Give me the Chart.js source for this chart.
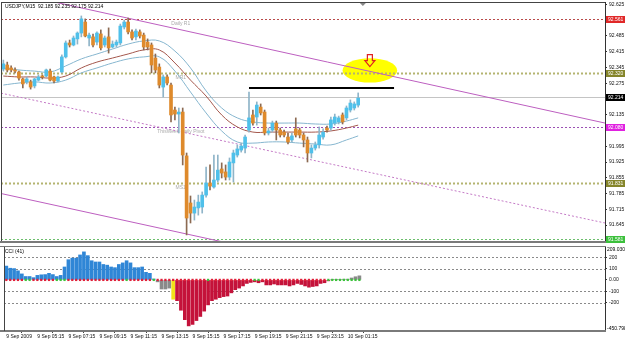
<!DOCTYPE html>
<html>
<head>
<meta charset="utf-8">
<script src="https://cdn.jsdelivr.net/npm/chart.js@4.4.1/dist/chart.umd.min.js"></script>
<style>
  html, body { margin: 0; padding: 0; background: #fff; }
  #wrap { position: relative; width: 625px; height: 341px; overflow: hidden; background: #fff; }
  #price { position: absolute; left: 0; top: 0; }
  #cci { position: absolute; left: 0; top: 243px; }
</style>
</head>
<body>
<div id="wrap">
  <canvas id="price" width="625" height="243"></canvas>
  <canvas id="cci" width="625" height="98"></canvas>
</div>
<script>
// USDJPY M15 bars, index 0 = first bar on screen
const openVals = [
  92.338,92.356,92.343,92.334,92.325,92.294,92.281,92.281,92.263,92.289,
  92.307,92.307,92.329,92.303,92.285,92.325,92.392,92.454,92.445,92.472,
  92.498,92.547,92.476,92.481,92.458,92.494,92.445,92.481,92.436,92.445,
  92.454,92.525,92.547,92.503,92.481,92.503,92.489,92.458,92.445,92.387,
  92.347,92.258,92.303,92.267,92.156,92.138,92.147,91.952,91.743,91.698,
  91.721,91.725,91.778,91.832,91.814,91.845,91.894,91.881,91.858,91.921,
  91.956,91.978,91.987,92.067,92.134,92.125,92.169,92.147,92.054,92.067,
  92.098,92.067,92.058,92.036,92.023,92.072,92.067,92.045,92.023,91.965,
  91.987,92.001,92.036,92.076,92.076,92.098,92.103,92.134,92.121,92.156,
  92.165,92.178];
const highVals = [
  92.378,92.369,92.352,92.343,92.329,92.298,92.303,92.289,92.298,92.312,
  92.312,92.338,92.338,92.307,92.307,92.401,92.463,92.467,92.485,92.503,
  92.574,92.561,92.498,92.494,92.503,92.512,92.485,92.521,92.463,92.467,
  92.538,92.556,92.565,92.512,92.516,92.512,92.498,92.472,92.454,92.405,
  92.361,92.312,92.312,92.276,92.169,92.165,92.165,91.965,91.774,91.756,
  91.778,91.792,91.903,91.912,91.956,91.956,91.921,91.912,91.943,91.978,
  92.001,92.009,92.045,92.236,92.156,92.192,92.183,92.156,92.076,92.107,
  92.107,92.076,92.067,92.054,92.054,92.121,92.076,92.054,92.036,92.001,
  92.014,92.081,92.072,92.085,92.125,92.138,92.129,92.143,92.174,92.201,
  92.192,92.232];
const lowVals = [
  92.329,92.325,92.325,92.321,92.289,92.254,92.272,92.249,92.254,92.285,
  92.294,92.303,92.285,92.276,92.281,92.321,92.387,92.436,92.441,92.449,
  92.481,92.481,92.441,92.436,92.445,92.423,92.436,92.409,92.432,92.436,
  92.445,92.516,92.494,92.467,92.467,92.476,92.423,92.423,92.321,92.321,
  92.254,92.214,92.267,92.103,92.112,92.054,91.912,91.601,91.654,91.667,
  91.689,91.698,91.769,91.801,91.809,91.836,91.854,91.845,91.845,91.836,
  91.947,91.969,91.965,92.058,92.089,92.089,92.134,92.045,92.045,92.058,
  92.023,92.036,92.036,92.005,92.014,92.036,92.032,91.992,91.925,91.943,
  91.978,91.987,92.027,92.058,92.067,92.089,92.094,92.094,92.112,92.147,
  92.156,92.169];
const closeVals = [
  92.361,92.334,92.334,92.329,92.298,92.272,92.294,92.258,92.294,92.303,
  92.303,92.334,92.289,92.285,92.303,92.392,92.454,92.445,92.476,92.498,
  92.561,92.485,92.489,92.445,92.498,92.432,92.476,92.432,92.449,92.458,
  92.529,92.547,92.503,92.476,92.507,92.485,92.436,92.436,92.356,92.334,
  92.267,92.303,92.276,92.134,92.138,92.147,91.956,91.676,91.698,91.725,
  91.747,91.778,91.832,91.818,91.845,91.889,91.876,91.858,91.925,91.965,
  91.983,91.996,92.036,92.121,92.098,92.178,92.143,92.054,92.063,92.098,
  92.067,92.045,92.045,92.014,92.041,92.045,92.045,92.023,91.965,91.987,
  92.001,92.045,92.058,92.067,92.112,92.125,92.121,92.103,92.165,92.187,
  92.183,92.209];

// envelope band, read every 4th bar
const envIdx    = [0,4,8,12,16,20,24,28,32,36,40,44,48,52,56,60,64,68,72,76,80,84,88,91];
const envUpper  = [92.343,92.334,92.329,92.325,92.352,92.383,92.405,92.427,92.449,92.463,92.463,92.418,
                   92.343,92.241,92.165,92.121,92.103,92.098,92.098,92.098,92.094,92.094,92.107,92.121];
const envMiddle = [92.307,92.303,92.303,92.298,92.307,92.343,92.369,92.387,92.405,92.423,92.423,92.365,
                   92.289,92.218,92.134,92.081,92.058,92.058,92.058,92.058,92.058,92.063,92.076,92.089];
const envLower  = [92.267,92.276,92.281,92.276,92.289,92.321,92.343,92.365,92.383,92.392,92.392,92.329,
                   92.236,92.143,92.063,92.014,92.009,92.014,92.014,92.009,92.005,92.001,92.023,92.041];

// CCI(41) histogram
const cciVals = [
  122,103,100,80,53,30,30,20,40,45,
  47,58,47,30,40,114,178,192,192,220,
  247,214,169,158,158,136,130,114,108,136,
  150,169,150,108,108,114,67,58,8,-17,
  -80,-80,-72,-170,-183,-267,-350,-405,-392,-358,
  -322,-275,-220,-183,-170,-156,-147,-142,-114,-86,
  -72,-53,-31,-22,-17,-25,-17,-44,-44,-36,
  -44,-44,-44,-53,-44,-31,-40,-53,-64,-58,
  -53,-31,-25,-8,3,3,5,6,6,17,
  28,36];
// b = blue, g = grey, y = yellow, r = red
const cciTone = 'bbbbbbbbbbbbbbbbbbbbbbbbbbbbbbbbbbbbbbbggggyrrrrrrrrrrrrrrrrrrrrrrrrrrrrrrrrrrrrrrrrgggggggg'.split('');
// zero-line markers: 1 = green, 0 = red
const zeroState = [
  0,0,0,0,0,1,1,0,0,0, 0,0,0,1,1,1,0,0,0,0, 0,0,0,0,0,0,0,0,0,0,
  0,1,0,0,0,0,0,0,1,0, 0,0,0,0,0,0,0,0,0,0, 0,0,1,0,0,0,0,0,0,0,
  0,0,0,0,1,1,0,0,0,0, 0,0,0,0,0,0,0,0,0,0, 0,0,0,1,1,1,1,1,1,1, 1,1];

const priceTicks = [92.625,92.485,92.415,92.345,92.275,92.135,91.995,91.925,91.855,91.785,91.715,91.645];
const cciTicks = [200,100,0,-100,-200];
const cciGridVals = [200,100,-100,-200];
const timeIdx = [0,8,16,24,32,40,48,56,64,72,80,88];
const timeLabels = ['9 Sep 2009','9 Sep 05:15','9 Sep 07:15','9 Sep 09:15','9 Sep 11:15','9 Sep 13:15',
                    '9 Sep 15:15','9 Sep 17:15','9 Sep 19:15','9 Sep 21:15','9 Sep 23:15','10 Sep 01:15'];

// pivot levels and bid
const levelVals  = [92.561, 92.320, 92.080, 91.831, 91.581];
const levelNames = ['Daily R1', 'MR1', 'ThisWeek Daily Pivot', 'MS1', ''];
const bidVal = 92.214;

// trend channel and drawings (bar index, price)
const upperTrendX = [0, 154.3],   upperTrendY = [92.686, 92.098];
const lowerTrendX = [-0.6, 60],   lowerTrendY = [91.785, 91.556];
const midTrendX   = [-0.6, 154.3], midTrendY  = [92.231, 91.654];
const resistX = [63, 100.2],      resistY = [92.254, 92.254];
const markCenter = [94.0, 92.332], markRadius = [7.0, 0.054];
const arrowTip = [94.0, 92.349];

const xMin = -0.6, xMax = 154.3;

Chart.defaults.font.family = 'Liberation Sans, Arial, sans-serif';
Chart.defaults.font.size = 5;
Chart.defaults.color = '#111';

const levelStyle = [
  { color: '#b84a4a', width: 1, tag: '#e02828' },
  { color: '#b4b470', width: 2, tag: '#85852a' },
  { color: '#9c50b4', width: 1, tag: '#e020e0' },
  { color: '#b4b470', width: 2, tag: '#85852a' },
  { color: '#6cbf6c', width: 1, tag: '#3cc03c' }
];

const idx = openVals.map((_, i) => i);
const isUp = idx.map(i => closeVals[i] >= openVals[i]);
const pts = (xs, ys) => xs.map((x, k) => ({ x: x, y: ys[k] }));
const noPad = s => { s.paddingTop = 0; s.paddingBottom = 0; s.paddingLeft = 0; s.paddingRight = 0; };

function tag(ctx, y, text, bg) {
  ctx.fillStyle = bg;
  ctx.fillRect(606, Math.round(y) - 3, 19, 7);
  ctx.fillStyle = '#fff';
  ctx.font = '5px Liberation Sans';
  ctx.textBaseline = 'middle';
  ctx.textAlign = 'left';
  ctx.fillText(text, 608, Math.round(y) + 0.5);
}

const priceOverlay = {
  id: 'priceOverlay',
  beforeDatasetsDraw(chart) {
    const { ctx, chartArea: a, scales: { x, y } } = chart;
    ctx.save();
    ctx.beginPath();
    ctx.rect(a.left, a.top, a.right - a.left, a.bottom - a.top);
    ctx.clip();
    // yellow highlight
    const cx = x.getPixelForValue(markCenter[0]);
    const cy = y.getPixelForValue(markCenter[1]);
    const rx = x.getPixelForValue(markCenter[0] + markRadius[0]) - cx;
    const ry = y.getPixelForValue(markCenter[1] - markRadius[1]) - cy;
    ctx.fillStyle = '#ffff00';
    ctx.beginPath();
    ctx.ellipse(cx, cy, rx, ry, 0, 0, Math.PI * 2);
    ctx.fill();
    // bid line
    const by = Math.round(y.getPixelForValue(bidVal)) + 0.5;
    ctx.strokeStyle = '#c4c4c4';
    ctx.lineWidth = 1;
    ctx.beginPath(); ctx.moveTo(a.left, by); ctx.lineTo(a.right, by); ctx.stroke();
    // pivot levels
    levelVals.forEach((v, k) => {
      const s = levelStyle[k];
      const ly = Math.round(y.getPixelForValue(v)) + 0.5;
      ctx.strokeStyle = s.color;
      ctx.lineWidth = s.width;
      ctx.setLineDash([2, 2]);
      ctx.beginPath(); ctx.moveTo(a.left, ly); ctx.lineTo(a.right, ly); ctx.stroke();
      ctx.setLineDash([]);
      if (levelNames[k]) {
        ctx.fillStyle = '#aaa';
        ctx.font = '5px Liberation Sans';
        ctx.textAlign = 'center';
        ctx.textBaseline = 'middle';
        ctx.fillText(levelNames[k], x.getPixelForValue(45.5), ly + 4);
      }
    });
    ctx.restore();
  },
  afterDatasetsDraw(chart) {
    const { ctx, scales: { x, y } } = chart;
    // down arrow
    const ax = x.getPixelForValue(arrowTip[0]);
    const ay = y.getPixelForValue(arrowTip[1]);
    ctx.save();
    ctx.strokeStyle = '#e02020';
    ctx.lineWidth = 1.2;
    ctx.beginPath();
    ctx.moveTo(ax - 2.5, ay - 12);
    ctx.lineTo(ax + 2.5, ay - 12);
    ctx.lineTo(ax + 2.5, ay - 6);
    ctx.lineTo(ax + 5, ay - 6);
    ctx.lineTo(ax, ay);
    ctx.lineTo(ax - 5, ay - 6);
    ctx.lineTo(ax - 2.5, ay - 6);
    ctx.closePath();
    ctx.stroke();
    ctx.restore();
  },
  afterDraw(chart) {
    const { ctx, chartArea: a, scales: { x, y } } = chart;
    ctx.save();
    levelVals.forEach((v, k) => tag(ctx, y.getPixelForValue(v), v.toFixed(3), levelStyle[k].tag));
    tag(ctx, y.getPixelForValue(bidVal), bidVal.toFixed(3), '#000');
    // frame
    ctx.strokeStyle = '#444';
    ctx.lineWidth = 1;
    ctx.beginPath();
    ctx.moveTo(a.left + 0.5, a.top); ctx.lineTo(a.left + 0.5, a.bottom);
    ctx.moveTo(a.left, a.top + 0.5); ctx.lineTo(a.right, a.top + 0.5);
    ctx.stroke();
    ctx.fillStyle = '#7a7a7a';
    ctx.fillRect(0, a.bottom, 606, 2);
    // chart shift marker
    const sx = x.getPixelForValue(92.2);
    ctx.fillStyle = '#888';
    ctx.beginPath();
    ctx.moveTo(sx - 3, a.top + 1); ctx.lineTo(sx + 3, a.top + 1); ctx.lineTo(sx, a.top + 4);
    ctx.closePath(); ctx.fill();
    // title
    ctx.fillStyle = '#000';
    ctx.font = '5px Liberation Sans';
    ctx.textAlign = 'left';
    ctx.textBaseline = 'middle';
    ctx.fillText('USDJPY,M15  92.185 92.235 92.175 92.214', 5, 7);
    ctx.restore();
  }
};

new Chart(document.getElementById('price'), {
  type: 'bar',
  data: {
    datasets: [
      {
        type: 'line', data: pts(resistX, resistY), borderColor: '#000', borderWidth: 2,
        pointRadius: 0, order: -1
      },
      {
        type: 'bar', data: idx.map(i => ({ x: i, y: [openVals[i], closeVals[i]] })),
        backgroundColor: idx.map(i => isUp[i] ? '#4fc0ea' : '#de8a2c'),
        barThickness: 3, minBarLength: 1, grouped: false, order: 1
      },
      {
        type: 'bar', data: idx.map(i => ({ x: i, y: [lowVals[i], highVals[i]] })),
        backgroundColor: idx.map(i => isUp[i] ? '#8fb4c8' : '#8c6a52'),
        barThickness: 1, grouped: false, order: 2
      },
      {
        type: 'line', data: pts(upperTrendX, upperTrendY), borderColor: '#bd5fc0', borderWidth: 1,
        pointRadius: 0, order: 3
      },
      {
        type: 'line', data: pts(lowerTrendX, lowerTrendY), borderColor: '#bd5fc0', borderWidth: 1,
        pointRadius: 0, order: 3
      },
      {
        type: 'line', data: pts(midTrendX, midTrendY), borderColor: '#c47ac6', borderWidth: 1,
        borderDash: [2, 2], pointRadius: 0, order: 3
      },
      {
        type: 'line', data: pts(envIdx, envUpper), borderColor: '#86b6cf', borderWidth: 1,
        pointRadius: 0, tension: 0.4, order: 4
      },
      {
        type: 'line', data: pts(envIdx, envMiddle), borderColor: '#a4574c', borderWidth: 1,
        pointRadius: 0, tension: 0.4, order: 4
      },
      {
        type: 'line', data: pts(envIdx, envLower), borderColor: '#86b6cf', borderWidth: 1,
        pointRadius: 0, tension: 0.4, order: 4
      }
    ]
  },
  options: {
    responsive: false,
    animation: false,
    events: [],
    layout: { padding: { left: 1, top: 2, right: 0, bottom: 2 } },
    plugins: { legend: { display: false }, tooltip: { enabled: false } },
    scales: {
      x: { type: 'linear', min: xMin, max: xMax, offset: false, display: false },
      y: {
        position: 'right', min: 91.574, max: 92.636,
        afterFit: s => { s.width = 20; noPad(s); },
        afterBuildTicks: s => { s.ticks = priceTicks.map(v => ({ value: v })); },
        ticks: { callback: v => v.toFixed(3), autoSkip: false, padding: 2, color: '#111' },
        grid: { drawOnChartArea: false, tickLength: 2, color: '#333' },
        border: { color: '#333' }
      }
    }
  },
  plugins: [priceOverlay]
});

const toneColor = { b: '#2f86d6', g: '#8a8a8a', y: '#f2e21a', r: '#c4123a' };

const cciOverlay = {
  id: 'cciOverlay',
  beforeDatasetsDraw(chart) {
    const { ctx, chartArea: a, scales: { y } } = chart;
    ctx.save();
    ctx.strokeStyle = '#8a8a8a';
    ctx.lineWidth = 1;
    ctx.setLineDash([2, 2]);
    cciGridVals.forEach(v => {
      const gy = Math.round(y.getPixelForValue(v)) + 0.5;
      ctx.beginPath(); ctx.moveTo(a.left, gy); ctx.lineTo(a.right, gy); ctx.stroke();
    });
    ctx.restore();
  },
  afterDraw(chart) {
    const { ctx, chartArea: a } = chart;
    ctx.save();
    ctx.fillStyle = '#7a7a7a';
    ctx.fillRect(0, a.top - 1, 606, 1);
    ctx.fillRect(0, a.bottom - 1, 606, 2);
    ctx.strokeStyle = '#444';
    ctx.beginPath();
    ctx.moveTo(a.left + 0.5, a.top); ctx.lineTo(a.left + 0.5, a.bottom);
    ctx.stroke();
    ctx.fillStyle = '#000';
    ctx.font = '5px Liberation Sans';
    ctx.textBaseline = 'middle';
    ctx.textAlign = 'left';
    ctx.fillText('CCI (41)', 5, a.top + 5);
    ctx.fillText('209.0302', 607, a.top + 3);
    ctx.fillText('-450.798', 607, a.bottom - 2);
    ctx.restore();
  }
};

new Chart(document.getElementById('cci'), {
  type: 'bar',
  data: {
    datasets: [
      {
        type: 'line', data: idx.map(i => ({ x: i, y: 0 })), showLine: false,
        pointStyle: 'rect', pointRadius: 1.6, pointBorderWidth: 0,
        pointBackgroundColor: zeroState.map(s => s ? '#3cc23c' : '#e0203a'), order: 0
      },
      {
        type: 'bar', data: idx.map(i => ({ x: i, y: cciVals[i] })),
        backgroundColor: cciTone.map(t => toneColor[t]),
        barThickness: 3, grouped: false, order: 1
      }
    ]
  },
  options: {
    responsive: false,
    animation: false,
    events: [],
    layout: { padding: { left: 1, top: 1, right: 0, bottom: 0 } },
    plugins: { legend: { display: false }, tooltip: { enabled: false } },
    scales: {
      x: {
        type: 'linear', min: xMin, max: xMax, offset: false, position: 'bottom',
        afterFit: s => { s.height = 10; noPad(s); },
        afterBuildTicks: s => { s.ticks = timeIdx.map(v => ({ value: v })); },
        ticks: {
          callback: (v, k) => timeLabels[k], align: 'start', autoSkip: false,
          maxRotation: 0, padding: 1, color: '#111'
        },
        grid: { drawOnChartArea: false, tickLength: 2, color: '#444' },
        border: { display: false }
      },
      y: {
        position: 'right', min: -450, max: 290,
        afterFit: s => { s.width = 20; noPad(s); },
        afterBuildTicks: s => { s.ticks = cciTicks.map(v => ({ value: v })); },
        ticks: { callback: v => v === 0 ? '0.00' : String(v), autoSkip: false, padding: 2, color: '#111' },
        grid: { drawOnChartArea: false, tickLength: 2, color: '#333' },
        border: { color: '#333' }
      }
    }
  },
  plugins: [cciOverlay]
});
</script>
</body>
</html>
